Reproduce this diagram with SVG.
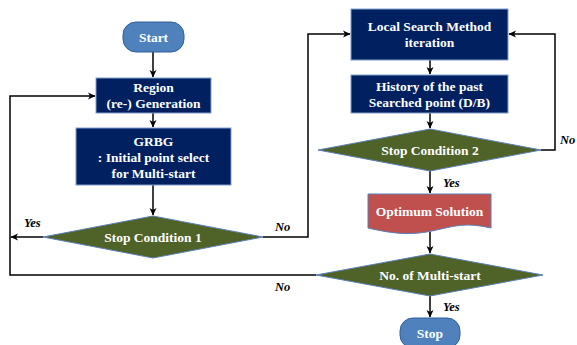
<svg xmlns="http://www.w3.org/2000/svg" width="577" height="345" viewBox="0 0 577 345">
<defs>
<marker id="ah" markerWidth="8" markerHeight="8" refX="7" refY="4" orient="auto" markerUnits="userSpaceOnUse">
<path d="M0,0.5 L7.5,4 L0,7.5 L2,4 Z" fill="#000"/>
</marker>
<style>
.t{font-family:"Liberation Serif","Times New Roman",serif;font-weight:bold;font-size:13.5px;fill:#fff;text-anchor:middle}
.l{font-family:"Liberation Serif","Times New Roman",serif;font-weight:bold;font-style:italic;font-size:12.5px;fill:#000}
.box{fill:#002060;stroke:#7f9fcf;stroke-width:1}
.term{fill:#4f81bd;stroke:#2f5f98;stroke-width:1}
.dia{fill:#4f6228;stroke:#5b7fb5;stroke-width:1}
.c{fill:none;stroke:#000;stroke-width:1.5}
</style>
</defs>
<rect width="577" height="345" fill="#fff"/>
<g id="connectors">
<path class="c" d="M153,52 V77" marker-end="url(#ah)"/>
<path class="c" d="M153,113 V127" marker-end="url(#ah)"/>
<path class="c" d="M153,185 V215" marker-end="url(#ah)"/>
<path class="c" d="M43,237 H11" marker-end="url(#ah)"/>
<path class="c" d="M316,275 H10 V96 H95" marker-end="url(#ah)"/>
<path class="c" d="M263,237 H308 V34 H350" marker-end="url(#ah)"/>
<path class="c" d="M430,60 V74" marker-end="url(#ah)"/>
<path class="c" d="M430,113 V128" marker-end="url(#ah)"/>
<path class="c" d="M541,150 H555 V34 H509" marker-end="url(#ah)"/>
<path class="c" d="M430,171 V193" marker-end="url(#ah)"/>
<path class="c" d="M430,232 V253" marker-end="url(#ah)"/>
<path class="c" d="M430,296 V317" marker-end="url(#ah)"/>
<text class="l" x="24" y="227">Yes</text>
<text class="l" x="275" y="231">No</text>
<text class="l" x="275" y="291">No</text>
<text class="l" x="560" y="144">No</text>
<text class="l" x="443" y="187">Yes</text>
<text class="l" x="443" y="311">Yes</text>
</g>
<g id="start">
<rect class="term" x="123" y="22" width="61" height="30" rx="13"/>
<text class="t" x="153.5" y="42">Start</text>
</g>
<g id="region">
<rect class="box" x="96" y="78" width="115" height="35"/>
<text class="t" x="153.5" y="92">Region</text>
<text class="t" x="153.5" y="108">(re-) Generation</text>
</g>
<g id="grbg">
<rect class="box" x="76" y="128" width="155" height="57"/>
<text class="t" x="153.5" y="146">GRBG</text>
<text class="t" x="153.5" y="162">: Initial point select</text>
<text class="t" x="153.5" y="178">for Multi-start</text>
</g>
<g id="stop1">
<polygon class="dia" points="153,216 263,237 153,258 43,237"/>
<text class="t" x="153" y="241.5">Stop Condition 1</text>
</g>
<g id="local">
<rect class="box" x="351" y="9" width="157" height="51"/>
<text class="t" x="429.5" y="31">Local Search Method</text>
<text class="t" x="429.5" y="47">iteration</text>
</g>
<g id="history">
<rect class="box" x="351" y="75" width="157" height="38"/>
<text class="t" x="429.5" y="91">History of the past</text>
<text class="t" x="429.5" y="107">Searched point (D/B)</text>
</g>
<g id="stop2">
<polygon class="dia" points="430,129 541,150 430,171 318,150"/>
<text class="t" x="430" y="154.5">Stop Condition 2</text>
</g>
<g id="optimum">
<path d="M368,194 H491 V228 C465,222 455,226 432,231 C408,236 390,233 368,228 Z" fill="#c0504d" stroke="#5b7fb5" stroke-width="1"/>
<text class="t" x="429.5" y="216">Optimum Solution</text>
</g>
<g id="multistart">
<polygon class="dia" points="430,254 543,275 430,296 316,275"/>
<text class="t" x="430" y="279.5">No. of Multi-start</text>
</g>
<g id="stop">
<rect class="term" x="400" y="318" width="60" height="30" rx="13"/>
<text class="t" x="430" y="338">Stop</text>
</g>
</svg>
